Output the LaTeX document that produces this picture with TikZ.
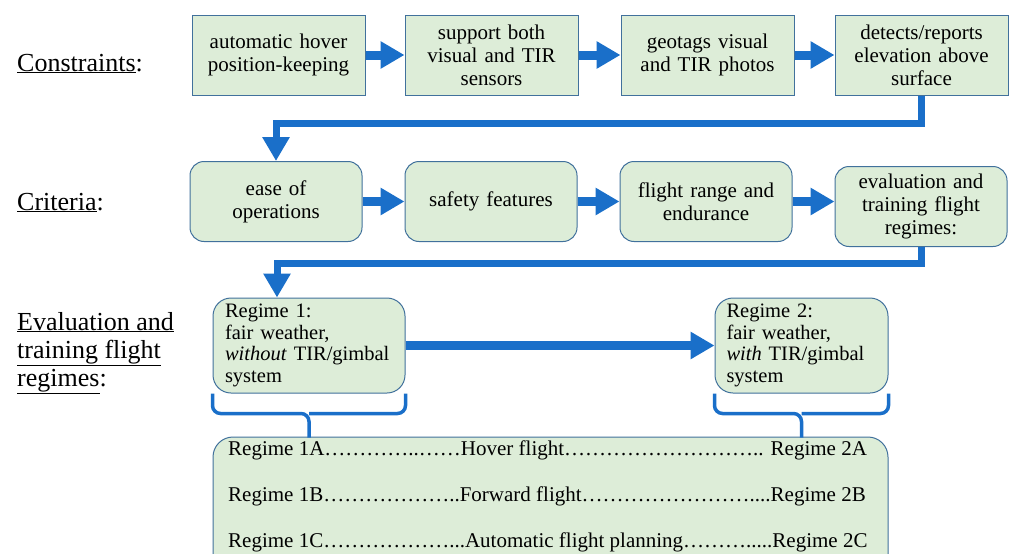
\documentclass[tikz,border=0pt]{standalone}
\usepackage{fontspec}
\setmainfont{Liberation Serif}
\newfontfamily\serifbox{Liberation Serif}
\usetikzlibrary{arrows.meta,positioning,calc}
\definecolor{boxfill}{RGB}{221,237,216}
\definecolor{boxline}{RGB}{65,113,156}
\definecolor{flowblue}{RGB}{26,111,201}
\newcommand{\elp}{…}

\begin{document}
\begin{tikzpicture}[x=1pt, y=-1pt]
  \tikzstyle{sqbox} = [rectangle, draw=boxline, fill=boxfill, line width=1pt, text width=160pt, align=center, minimum width=173pt, minimum height=80pt, inner sep=0pt, font=\serifbox\fontsize{21}{23}\selectfont]
  \tikzstyle{rbox} = [sqbox, minimum width=172pt, rounded corners=14pt]
  \tikzstyle{regbox} = [rbox, align=left, minimum height=95pt, rounded corners=18pt, font=\serifbox\fontsize{20.5}{21.5}\selectfont]
  \tikzstyle{rowlabel} = [anchor=base west, align=left, inner sep=0pt, font=\serifbox\fontsize{26}{28}\selectfont]
  \tikzstyle{flow} = [line width=9pt, flowblue, -{Triangle[length=24pt,width=26pt]}]
  \tikzstyle{elbow} = [flow, line width=7pt]
  \tikzstyle{bracket} = [line width=3.5pt, flowblue, rounded corners=8pt]
  \clip (0,0) rectangle (1009,554);

  % left labels
  \node [rowlabel] (lcons) at (17,71) {\underline{Constraints}:};
  \node [rowlabel] (lcrit) at (17,210) {\underline{Criteria}:};
  \node [rowlabel] (lregs) at (17,386) {\underline{Evaluation and}\\\underline{training flight}\\\underline{regimes}:};

  % constraints
  \node [sqbox] (hover) at (278.5,55) {automatic hover\\position-keeping};
  \node [sqbox, right=39pt of hover] (sensors) {support both\\visual and TIR\\sensors};
  \node [sqbox, right=42pt of sensors] (geotag) {geotags visual\\and TIR photos};
  \node [sqbox, right=40pt of geotag] (elev) {detects/reports\\elevation above\\surface};

  % criteria
  \node [rbox] (ease) at (276,201.5) {ease of\\operations};
  \node [rbox, right=42pt of ease] (safety) {safety features};
  \node [rbox, right=42pt of safety] (range) {flight range and\\endurance};
  \node [rbox, right=42pt of range, yshift=-5pt] (regimes) {evaluation and\\training flight\\regimes:};

  % regimes
  \node [regbox, minimum width=192pt, text width=168pt] (reg1) at (309,345.5) {Regime 1:\\fair weather,\\\textit{without} TIR/gimbal\\system};
  \node [regbox, minimum width=173pt, text width=150pt] (reg2) at (801.5,345.5) {Regime 2:\\fair weather,\\\textit{with} TIR/gimbal\\system};
  \node [rbox, minimum width=675pt, minimum height=150pt, rounded corners=20pt] (table) at (550.5,512) {};
  \node [anchor=north west, align=left, inner sep=0pt, font=\serifbox\fontsize{21}{46}\selectfont] (rows) at (228,441)
    {Regime 1A\elp\elp\elp\elp..\elp\elp Hover flight\elp\elp\elp\elp\elp\elp\elp\elp\elp.. Regime 2A\\
     Regime 1B\elp\elp\elp\elp\elp\elp..Forward flight\elp\elp\elp\elp\elp\elp\elp\elp....Regime 2B\\
     Regime 1C\elp\elp\elp\elp\elp\elp...Automatic flight planning\elp\elp\elp.....Regime 2C};

  \coordinate (turn1) at (0,123);
  \coordinate (turn2) at (277,263);

  \draw [flow] (hover) -- (sensors);
  \draw [flow] (sensors) -- (geotag);
  \draw [flow] (geotag) -- (elev);
  \draw [elbow] (elev.south) -- (elev.south |- turn1) -| (ease.north);
  \draw [flow] (ease) -- (safety);
  \draw [flow] (safety) -- (range);
  \draw [flow] (range) -- (regimes.west |- range.east);
  \draw [elbow] (regimes.south) -- (regimes.south |- turn2) -- (turn2) -- (turn2 |- reg1.north);
  \draw [flow] (reg1) -- (reg2);

  % brackets
  \draw [bracket] (reg1.south west) |- ($(reg1.south)+(0,20)$) -- ($(reg1.south)+(0,44)$);
  \draw [bracket] (reg1.south east) |- ($(reg1.south)+(0,20)$);
  \draw [bracket] (reg2.south west) |- ($(reg2.south)+(0,20)$) -- ($(reg2.south)+(0,44)$);
  \draw [bracket] (reg2.south east) |- ($(reg2.south)+(0,20)$);
\end{tikzpicture}
\end{document}
